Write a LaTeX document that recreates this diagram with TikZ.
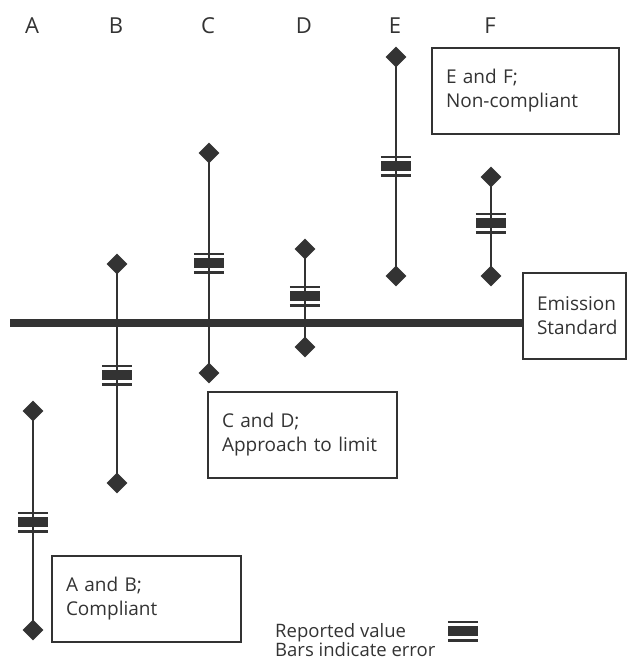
\documentclass[tikz,border=0pt]{standalone}
\usepackage{fontspec}
\setmainfont{Open Sans}
\usetikzlibrary{shapes.geometric}
\definecolor{ink}{HTML}{333333}

\tikzset{
  tip/.style={diamond, fill=ink, inner sep=0pt, minimum width=21pt, minimum height=21pt},
  reading/.style={rectangle, fill=ink, inner sep=0pt, minimum width=30pt, minimum height=10pt},
  errbar/.style={draw=ink, line width=1.4pt},
  thinbar/.style={draw=ink, line width=2.6pt},
  note/.style={draw=ink, line width=1.2pt, minimum height=86pt, inner xsep=14pt, align=left, text=ink, font=\fontsize{19}{24}\selectfont},
  colname/.style={anchor=base, text=ink, font=\fontsize{22}{26}\selectfont},
}

\begin{document}
\begin{tikzpicture}[x=1pt, y=-1pt]
        \useasboundingbox (0,0) rectangle (627,662);

        % limit and its label
        \node[note, text width=75pt] (std) at (574.5,316) {Emission\\Standard};
        \coordinate (stdleft) at (10,323);
        \draw[ink, line width=8pt] (stdleft) -- (stdleft -| std.west);

        % columns: name / x / upper / reported / lower
        \foreach \c/\x/\up/\val/\low in {A/33/411/522/630, B/117/264/375/483, C/209/153/263/373,
                                         D/305/249/296/347, E/396/57/166/276, F/491/177/223/276} {
            \node[colname] (n\c) at (\x-1,33) {\c};
            \node[tip] (t\c) at (\x,\up) {};
            \node[tip] (b\c) at (\x,\low) {};
            \draw[errbar] (t\c.center) -- (b\c.center);
            \node[reading] (v\c) at (\x,\val) {};
            \draw[thinbar] ([yshift=4pt]v\c.north west) -- ([yshift=4pt]v\c.north east);
            \draw[thinbar] ([yshift=-4pt]v\c.south west) -- ([yshift=-4pt]v\c.south east);
        }

        \node[note, text width=161pt] (ab) at (146.5,599) {A and B;\\Compliant};
        \node[note, text width=161pt] (cd) at (302.5,435) {C and D;\\Approach to limit};
        \node[note, text width=159pt] (ef) at (525.5,91) {E and F;\\Non-compliant};

        % key
        \node[anchor=west, inner sep=0pt, align=left, text=ink, font=\fontsize{18.5}{19}\selectfont] (key) at (275,640) {Reported value\\Bars indicate error};
        \node[reading] (keyval) at (463,631) {};
        \draw[thinbar] ([yshift=4pt]keyval.north west) -- ([yshift=4pt]keyval.north east);
        \draw[thinbar] ([yshift=-4pt]keyval.south west) -- ([yshift=-4pt]keyval.south east);
\end{tikzpicture}
\end{document}
